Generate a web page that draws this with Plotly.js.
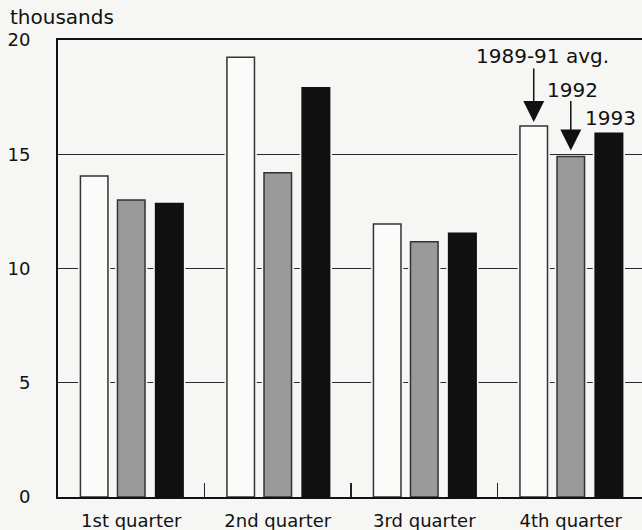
<!DOCTYPE html>
<html>
<head>
<meta charset="utf-8">
<script src="https://cdn.plot.ly/plotly-3.0.1.min.js"></script>
<style>
html,body{margin:0;padding:0;background:#f6f6f4;}
#chart{width:642px;height:530px;}
</style>
</head>
<body>
<div id="chart"></div>
<script>
// Data
const quarters = ["1st quarter", "2nd quarter", "3rd quarter", "4th quarter"];
const avg8991 = [14.05, 19.24, 11.95, 16.24];
const y1992 = [13.0, 14.19, 11.17, 14.9];
const y1993 = [12.84, 17.91, 11.54, 15.92];
const seriesNames = ["1989-91 avg.", "1992", "1993"];
const yTicks = [0, 5, 10, 15, 20];

const idx = quarters.map((q, i) => i);
const W = 0.188;       // bar width (category units)
const H = 0.016;       // halo extra on each side
const offs = [-0.347, -0.094, 0.166];
const fills = ["#fbfbfa", "#9a9a9a", "#111111"];
const lines = ["#333333", "#333333", "#111111"];
const vals = [avg8991, y1992, y1993];

const traces = [];
// light halos that interrupt the gridlines around bars
vals.forEach((v, k) => {
  traces.push({
    type: "bar", x: idx, y: v, width: W + 2 * H, offset: offs[k] - H,
    marker: {color: "#f6f6f4", line: {width: 0}},
    hoverinfo: "skip", showlegend: false
  });
});
vals.forEach((v, k) => {
  traces.push({
    type: "bar", x: idx, y: v, width: W, offset: offs[k], name: seriesNames[k],
    marker: {color: fills[k], line: {color: lines[k], width: 1.5}},
    showlegend: false
  });
});

const font = "DejaVu Sans, Arial, sans-serif";
const layout = {
  width: 642, height: 530,
  margin: {l: 58, r: 0, t: 40, b: 33, pad: 0},
  paper_bgcolor: "#f6f6f4", plot_bgcolor: "#f6f6f4",
  barmode: "overlay",
  showlegend: false,
  font: {family: font, color: "#111", size: 18},
  title: {text: "thousands", x: 10 / 642, xanchor: "left", xref: "container",
          y: 1 - 17 / 530, yanchor: "middle", yref: "container",
          font: {family: font, size: 20, color: "#111"}},
  xaxis: {
    type: "linear", range: [-0.5, 3.486],
    tickmode: "array", tickvals: idx, ticktext: quarters,
    ticks: "", showgrid: false, zeroline: false,
    showline: true, linecolor: "#111", linewidth: 2, mirror: true,
    tickfont: {family: font, size: 18, color: "#111"},
    ticklabelstandoff: 6,
    minor: {tickmode: "array", tickvals: [0.5, 1.5, 2.5, 3.5], ticks: "inside", ticklen: 14, tickcolor: "#222", tickwidth: 1.2, showgrid: false}
  },
  yaxis: {
    range: [0, 20], tickmode: "array", tickvals: yTicks, ticktext: yTicks.map(String),
    showgrid: true, gridcolor: "#2a2a2a", gridwidth: 1.3,
    zeroline: false, showline: true, linecolor: "#111", linewidth: 2,
    ticks: "outside", ticklen: 22, tickcolor: "rgba(0,0,0,0)",
    tickfont: {family: font, size: 18, color: "#111"}
  },
  annotations: [
    {x: 3 + offs[0] + W / 2, y: avg8991[3], xref: "x", yref: "y", text: "", showarrow: true,
     arrowhead: 2, arrowsize: 2.8, arrowwidth: 1.5, arrowcolor: "#111", ax: 0, ay: -59, standoff: 4},
    {x: 3 + offs[1] + W / 2, y: y1992[3], xref: "x", yref: "y", text: "", showarrow: true,
     arrowhead: 2, arrowsize: 2.8, arrowwidth: 1.5, arrowcolor: "#111", ax: 0, ay: -57, standoff: 6},
    {x: 3 + offs[0] + W / 2, y: avg8991[3], xref: "x", yref: "y", text: seriesNames[0], showarrow: false,
     xshift: 9, yshift: 70, font: {family: font, size: 20, color: "#111"}},
    {x: 3 + offs[1] + W / 2, y: y1992[3], xref: "x", yref: "y", text: seriesNames[1], showarrow: false,
     xshift: 2, yshift: 67, font: {family: font, size: 20, color: "#111"}},
    {x: 3 + offs[2] + W / 2, y: y1993[3], xref: "x", yref: "y", text: seriesNames[2], showarrow: false,
     xshift: 2, yshift: 15, font: {family: font, size: 20, color: "#111"}}
  ]
};

Plotly.newPlot("chart", traces, layout, {displayModeBar: false, staticPlot: true});
</script>
</body>
</html>
